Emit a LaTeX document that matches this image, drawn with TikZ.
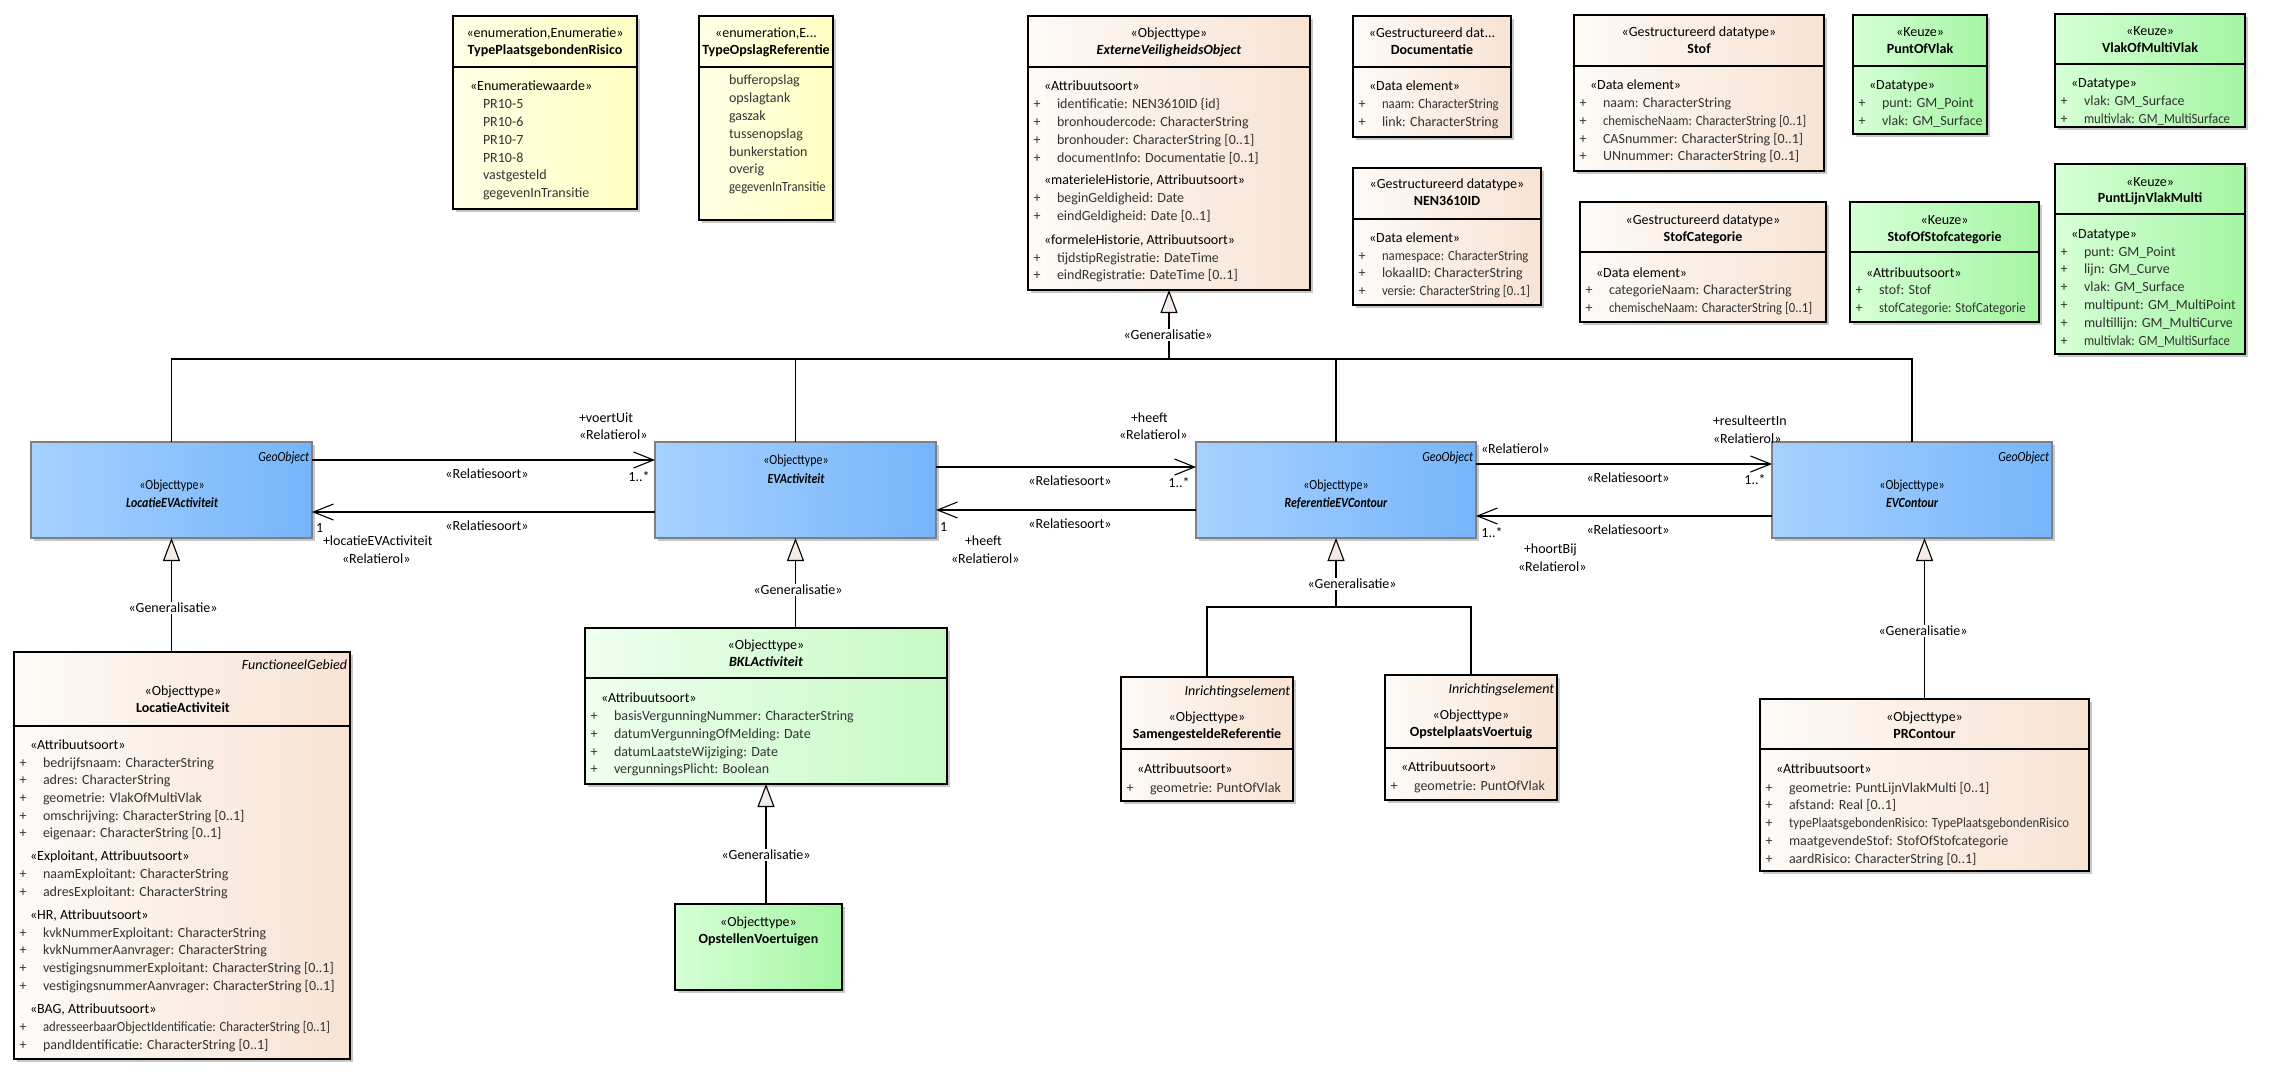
\documentclass[tikz,border=0pt]{standalone}
\usepackage{fontspec}
\setmainfont{Carlito}
\newfontfamily\condf[FakeStretch=0.85]{Carlito}
\newfontfamily\sqf[FakeStretch=0.91]{Carlito}
\usetikzlibrary{arrows.meta,shadows}
\definecolor{peachL}{HTML}{FDFAF7}\definecolor{peachR}{HTML}{F8E3D3}
\definecolor{blueL}{HTML}{A6D1FF}\definecolor{blueR}{HTML}{76B5FB}
\definecolor{greenL}{HTML}{D6FFD6}\definecolor{greenR}{HTML}{A4F5A2}
\definecolor{lgreenL}{HTML}{EEFFEE}\definecolor{lgreenR}{HTML}{C6F9C4}
\definecolor{yelL}{HTML}{FFFFE6}\definecolor{yelR}{HTML}{FFFFC2}
\definecolor{bordergray}{HTML}{7F7F7F}
\definecolor{genfill}{HTML}{F5ECE9}
\definecolor{attrc}{HTML}{333333}
\newcounter{tc}
\newcommand\fs{\fontsize{14}{17}\selectfont}
\newcommand\tline[4][]{\stepcounter{tc}\edef\tn{t\arabic{tc}}\expandafter\tlinex\expandafter{\tn}{#1}{#2}{#3}{#4}}
\newcommand\tlinex[5]{\node[tx,#2] (#1) at (#3,#4) {#5};}
\newcommand\attr[3]{\tline[anchor=base,text=attrc]{#1+9}{#2}{+}\tline[text=attrc]{#1+29}{#2}{#3}}
\newcommand\attrs[3]{\tline[anchor=base,text=attrc]{#1+9}{#2}{+}\tline[text=attrc,font=\sqf\fs]{#1+29}{#2}{#3}}
\newcommand\grp[3]{\tline{#1+16}{#2}{#3}}
\newcommand\hdr[5][]{\tline[anchor=base]{#2}{#3}{#4}\tline[anchor=base,font=\fs\bfseries#1]{#2}{#3+17}{#5}}
\newcommand\divl[2]{\coordinate (d#1) at (0,#2); \draw[divline] (#1.west |- d#1) -- (#1.east |- d#1);}
\tikzset{
  tx/.style={anchor=base west, inner sep=0pt, outer sep=0pt, font=\fs},
  box/.style={draw=black, line width=1.3pt, anchor=north west, inner sep=0pt, outer sep=0pt,
    drop shadow={shadow xshift=3pt, shadow yshift=-3pt, fill=black!22, opacity=1}},
  peach/.style={box, left color=peachL, right color=peachR},
  blue/.style={box, draw=bordergray, left color=blueL, right color=blueR},
  green/.style={box, left color=greenL, right color=greenR},
  lgreen/.style={box, left color=lgreenL, right color=lgreenR},
  yel/.style={box, left color=yelL, right color=yelR},
  divline/.style={line width=1.3pt},
  line/.style={line width=1.1pt},
  gen/.style={line width=1.1pt, -{Triangle[length=23pt,width=17pt,fill=genfill,line width=1.1pt]}},
  assoc/.style={line width=1.1pt, -{Straight Barb[length=20pt,width=16pt,line width=1.1pt]}},
  glabel/.style={fill=white, inner sep=1pt, font=\fs},
}
\begin{document}
\begin{tikzpicture}[x=1pt,y=-1pt]
\useasboundingbox (0,0) rectangle (2269,1078);

% ---------- boxes ----------
\node[yel, minimum width=184pt, minimum height=193pt] (tpr) at (453,16) {};
\divl{tpr}{67}
\node[yel, minimum width=134pt, minimum height=204pt] (tor) at (699,16) {};
\divl{tor}{67}
\node[peach, minimum width=282pt, minimum height=274pt] (ext) at (1028,16) {};
\divl{ext}{67}
\node[peach, minimum width=158pt, minimum height=121pt] (doc) at (1353,16) {};
\divl{doc}{67}
\node[peach, minimum width=188pt, minimum height=137pt] (nen) at (1353,168) {};
\divl{nen}{219}
\node[peach, minimum width=250pt, minimum height=156pt] (stof) at (1574,15) {};
\divl{stof}{66}
\node[peach, minimum width=246pt, minimum height=120pt] (stofcat) at (1580,202) {};
\divl{stofcat}{252}
\node[green, minimum width=134pt, minimum height=119pt] (pov) at (1853,15) {};
\divl{pov}{66}
\node[green, minimum width=189pt, minimum height=120pt] (sosc) at (1850,202) {};
\divl{sosc}{252}
\node[green, minimum width=190pt, minimum height=113pt] (vomv) at (2055,14) {};
\divl{vomv}{64}
\node[green, minimum width=190pt, minimum height=190pt] (plvm) at (2055,164) {};
\divl{plvm}{214}
\node[blue, minimum width=281pt, minimum height=96pt] (locev) at (31,442) {};
\node[blue, minimum width=281pt, minimum height=96pt] (evact) at (655,442) {};
\node[blue, minimum width=280pt, minimum height=96pt] (refev) at (1196,442) {};
\node[blue, minimum width=280pt, minimum height=96pt] (evc) at (1772,442) {};
\node[peach, minimum width=336pt, minimum height=407pt] (locact) at (14,652) {};
\divl{locact}{726}
\node[lgreen, minimum width=362pt, minimum height=156pt] (bkl) at (585,628) {};
\divl{bkl}{678}
\node[green, minimum width=167pt, minimum height=86pt] (opsv) at (675,904) {};
\node[peach, minimum width=172pt, minimum height=124pt] (sam) at (1121,677) {};
\divl{sam}{749}
\node[peach, minimum width=172pt, minimum height=125pt] (opp) at (1385,675) {};
\divl{opp}{748}
\node[peach, minimum width=329pt, minimum height=172pt] (prc) at (1760,699) {};
\divl{prc}{749}

% ---------- texts ----------
% TypePlaatsgebondenRisico
\hdr{545}{38}{«enumeration,Enumeratie»}{TypePlaatsgebondenRisico}
\tline{470}{91}{«Enumeratiewaarde»}
\tline[text=attrc]{483}{109}{PR10-5}
\tline[text=attrc]{483}{126.8}{PR10-6}
\tline[text=attrc]{483}{144.5}{PR10-7}
\tline[text=attrc]{483}{162.3}{PR10-8}
\tline[text=attrc]{483}{180}{vastgesteld}
\tline[text=attrc]{483}{197.8}{gegevenInTransitie}
% TypeOpslagReferentie
\hdr{766}{38}{«enumeration,E...}{TypeOpslagReferentie}
\tline[text=attrc]{729}{85}{bufferopslag}
\tline[text=attrc]{729}{102.8}{opslagtank}
\tline[text=attrc]{729}{120.6}{gaszak}
\tline[text=attrc]{729}{138.4}{tussenopslag}
\tline[text=attrc]{729}{156.2}{bunkerstation}
\tline[text=attrc]{729}{174}{overig}
\tline[text=attrc,font=\sqf\fs]{729}{191.8}{gegevenInTransitie}
% ExterneVeiligheidsObject
\hdr[\itshape]{1169}{38}{«Objecttype»}{ExterneVeiligheidsObject}
\grp{1028}{91}{«Attribuutsoort»}
\attr{1028}{109}{identificatie: NEN3610ID \{id\}}
\attr{1028}{126.8}{bronhoudercode: CharacterString}
\attr{1028}{144.6}{bronhouder: CharacterString [0..1]}
\attr{1028}{162.4}{documentInfo: Documentatie [0..1]}
\grp{1028}{185}{«materieleHistorie, Attribuutsoort»}
\attr{1028}{203}{beginGeldigheid: Date}
\attr{1028}{220.8}{eindGeldigheid: Date [0..1]}
\grp{1028}{244}{«formeleHistorie, Attribuutsoort»}
\attr{1028}{262}{tijdstipRegistratie: DateTime}
\attr{1028}{279.8}{eindRegistratie: DateTime [0..1]}
% Documentatie
\hdr{1432}{38}{«Gestructureerd dat...}{Documentatie}
\grp{1353}{91}{«Data element»}
\attrs{1353}{109}{naam: CharacterString}
\attr{1353}{126.8}{link: CharacterString}
% NEN3610ID
\hdr{1447}{189}{«Gestructureerd datatype»}{NEN3610ID}
\grp{1353}{242}{«Data element»}
\attrs{1353}{260}{namespace: CharacterString}
\attr{1353}{277.8}{lokaalID: CharacterString}
\attrs{1353}{295.6}{versie: CharacterString [0..1]}
% Stof
\hdr{1699}{37}{«Gestructureerd datatype»}{Stof}
\grp{1574}{90}{«Data element»}
\attr{1574}{107.5}{naam: CharacterString}
\attrs{1574}{125.3}{chemischeNaam: CharacterString [0..1]}
\attr{1574}{143.1}{CASnummer: CharacterString [0..1]}
\attr{1574}{160.9}{UNnummer: CharacterString [0..1]}
% StofCategorie
\hdr{1703}{224}{«Gestructureerd datatype»}{StofCategorie}
\grp{1580}{277}{«Data element»}
\attr{1580}{294.5}{categorieNaam: CharacterString}
\attrs{1580}{312.3}{chemischeNaam: CharacterString [0..1]}
% PuntOfVlak
\hdr{1920}{37}{«Keuze»}{PuntOfVlak}
\grp{1853}{90}{«Datatype»}
\attr{1853}{107.5}{punt: GM\_Point}
\attr{1853}{125.3}{vlak: GM\_Surface}
% StofOfStofcategorie
\hdr{1944.5}{224}{«Keuze»}{StofOfStofcategorie}
\grp{1850}{277}{«Attribuutsoort»}
\attr{1850}{294.5}{stof: Stof}
\attrs{1850}{312.3}{stofCategorie: StofCategorie}
% VlakOfMultiVlak
\hdr{2150}{36}{«Keuze»}{VlakOfMultiVlak}
\grp{2055}{88}{«Datatype»}
\attr{2055}{106}{vlak: GM\_Surface}
\attrs{2055}{123.8}{multivlak: GM\_MultiSurface}
% PuntLijnVlakMulti
\hdr{2150}{186}{«Keuze»}{PuntLijnVlakMulti}
\grp{2055}{238}{«Datatype»}
\attr{2055}{256}{punt: GM\_Point}
\attr{2055}{273.8}{lijn: GM\_Curve}
\attr{2055}{291.6}{vlak: GM\_Surface}
\attr{2055}{309.4}{multipunt: GM\_MultiPoint}
\attr{2055}{327.2}{multillijn: GM\_MultiCurve}
\attrs{2055}{345}{multivlak: GM\_MultiSurface}
% Blue boxes
\tline[anchor=base east,font=\condf\fs\itshape]{309}{461}{GeoObject}
\tline[anchor=base,font=\condf\fs]{172}{489}{«Objecttype»}
\tline[anchor=base,font=\condf\fs\bfseries\itshape]{172}{507}{LocatieEVActiviteit}
\tline[anchor=base,font=\condf\fs]{796}{464}{«Objecttype»}
\tline[anchor=base,font=\condf\fs\bfseries\itshape]{796}{483}{EVActiviteit}
\tline[anchor=base east,font=\condf\fs\itshape]{1473}{461}{GeoObject}
\tline[anchor=base,font=\condf\fs]{1336}{489}{«Objecttype»}
\tline[anchor=base,font=\condf\fs\bfseries\itshape]{1336}{507}{ReferentieEVContour}
\tline[anchor=base east,font=\condf\fs\itshape]{2049}{461}{GeoObject}
\tline[anchor=base,font=\condf\fs]{1912}{489}{«Objecttype»}
\tline[anchor=base,font=\condf\fs\bfseries\itshape]{1912}{507}{EVContour}
% LocatieActiviteit
\tline[anchor=base east,font=\fs\itshape]{347}{669}{FunctioneelGebied}
\hdr{183}{695}{«Objecttype»}{LocatieActiviteit}
\grp{14}{749}{«Attribuutsoort»}
\attr{14}{767}{bedrijfsnaam: CharacterString}
\attr{14}{784.7}{adres: CharacterString}
\attr{14}{802.4}{geometrie: VlakOfMultiVlak}
\attr{14}{820.1}{omschrijving: CharacterString [0..1]}
\attr{14}{837.8}{eigenaar: CharacterString [0..1]}
\grp{14}{860}{«Exploitant, Attribuutsoort»}
\attr{14}{878}{naamExploitant: CharacterString}
\attr{14}{896}{adresExploitant: CharacterString}
\grp{14}{919}{«HR, Attribuutsoort»}
\attr{14}{937}{kvkNummerExploitant: CharacterString}
\attr{14}{954.8}{kvkNummerAanvrager: CharacterString}
\attr{14}{972.6}{vestigingsnummerExploitant: CharacterString [0..1]}
\attr{14}{990.4}{vestigingsnummerAanvrager: CharacterString [0..1]}
\grp{14}{1013}{«BAG, Attribuutsoort»}
\attrs{14}{1031.5}{adresseerbaarObjectIdentificatie: CharacterString [0..1]}
\attr{14}{1049.3}{pandIdentificatie: CharacterString [0..1]}
% BKLActiviteit
\hdr[\itshape]{766}{649}{«Objecttype»}{BKLActiviteit}
\grp{585}{702}{«Attribuutsoort»}
\attr{585}{720.5}{basisVergunningNummer: CharacterString}
\attr{585}{738.3}{datumVergunningOfMelding: Date}
\attr{585}{756.1}{datumLaatsteWijziging: Date}
\attr{585}{773.9}{vergunningsPlicht: Boolean}
% OpstellenVoertuigen
\hdr{758.5}{926}{«Objecttype»}{OpstellenVoertuigen}
% SamengesteldeReferentie
\tline[anchor=base east,font=\fs\itshape]{1290}{695}{Inrichtingselement}
\hdr{1207}{721}{«Objecttype»}{SamengesteldeReferentie}
\grp{1121}{773}{«Attribuutsoort»}
\attr{1121}{792}{geometrie: PuntOfVlak}
% OpstelplaatsVoertuig
\tline[anchor=base east,font=\fs\itshape]{1554}{693}{Inrichtingselement}
\hdr{1471}{719}{«Objecttype»}{OpstelplaatsVoertuig}
\grp{1385}{771}{«Attribuutsoort»}
\attr{1385}{790}{geometrie: PuntOfVlak}
% PRContour
\hdr{1924.5}{721}{«Objecttype»}{PRContour}
\grp{1760}{773}{«Attribuutsoort»}
\attr{1760}{792}{geometrie: PuntLijnVlakMulti [0..1]}
\attr{1760}{809.8}{afstand: Real [0..1]}
\attrs{1760}{827.6}{typePlaatsgebondenRisico: TypePlaatsgebondenRisico}
\attr{1760}{845.4}{maatgevendeStof: StofOfStofcategorie}
\attr{1760}{863.2}{aardRisico: CharacterString [0..1]}

% ---------- generalisations ----------
\coordinate (bus) at (0,359);
\draw[line] (locev.north) -- (locev.north |- bus) -- (evc.north |- bus) -- (evc.north);
\draw[line] (evact.north) -- (evact.north |- bus);
\draw[line] (refev.north) -- (refev.north |- bus);
\draw[gen] (ext.south |- bus) -- (ext.south);
\draw[gen] (locev.south |- locact.north) -- (locev.south);
\draw[gen] (evact.south |- bkl.north) -- (evact.south);
\draw[gen] (bkl.south |- opsv.north) -- (bkl.south);
\draw[gen] (prc.north) -- (prc.north |- evc.south);
\coordinate (bus2) at (0,607);
\draw[line] (sam.north) -- (sam.north |- bus2) -- (opp.north |- bus2) -- (opp.north);
\draw[gen] (refev.south |- bus2) -- (refev.south);
\node[glabel] (g1) at (1168,335) {«Generalisatie»};
\node[glabel] (g2) at (173,608) {«Generalisatie»};
\node[glabel] (g3) at (798,590) {«Generalisatie»};
\node[glabel] (g4) at (766,855) {«Generalisatie»};
\node[glabel] (g5) at (1352,584) {«Generalisatie»};
\node[glabel] (g6) at (1923,631) {«Generalisatie»};

% ---------- associations ----------
\coordinate (y460) at (0,460);
\coordinate (y512) at (0,512);
\coordinate (y467) at (0,467);
\coordinate (y510) at (0,510);
\coordinate (y464) at (0,464);
\coordinate (y516) at (0,516);
\draw[assoc] (locev.east |- y460) -- (evact.west |- y460);
\draw[assoc] (evact.west |- y512) -- (locev.east |- y512);
\draw[assoc] (evact.east |- y467) -- (refev.west |- y467);
\draw[assoc] (refev.west |- y510) -- (evact.east |- y510);
\draw[assoc] (refev.east |- y464) -- (evc.west |- y464);
\draw[assoc] (evc.west |- y516) -- (refev.east |- y516);

% association labels
\tline[anchor=base]{487}{478}{«Relatiesoort»}
\tline[anchor=base]{639}{481}{1..*}
\tline{579}{422}{+voertUit}
\tline{579}{439}{«Relatierol»}
\tline[anchor=base]{487}{530}{«Relatiesoort»}
\tline{316}{532}{1}
\tline{323}{545}{+locatieEVActiviteit}
\tline{342}{563}{«Relatierol»}
\tline[anchor=base]{1070}{485}{«Relatiesoort»}
\tline[anchor=base]{1179}{487}{1..*}
\tline{1131}{422}{+heeft}
\tline{1119}{439}{«Relatierol»}
\tline[anchor=base]{1070}{528}{«Relatiesoort»}
\tline{940}{531}{1}
\tline{965}{545}{+heeft}
\tline{951}{563}{«Relatierol»}
\tline{1481}{453}{«Relatierol»}
\tline[anchor=base]{1628}{482}{«Relatiesoort»}
\tline[anchor=base]{1755}{484}{1..*}
\tline{1713}{425}{+resulteertIn}
\tline{1713}{443}{«Relatierol»}
\tline[anchor=base]{1628}{534}{«Relatiesoort»}
\tline[anchor=base]{1492}{537}{1..*}
\tline{1524}{553}{+hoortBij}
\tline{1518}{571}{«Relatierol»}
\end{tikzpicture}
\end{document}
